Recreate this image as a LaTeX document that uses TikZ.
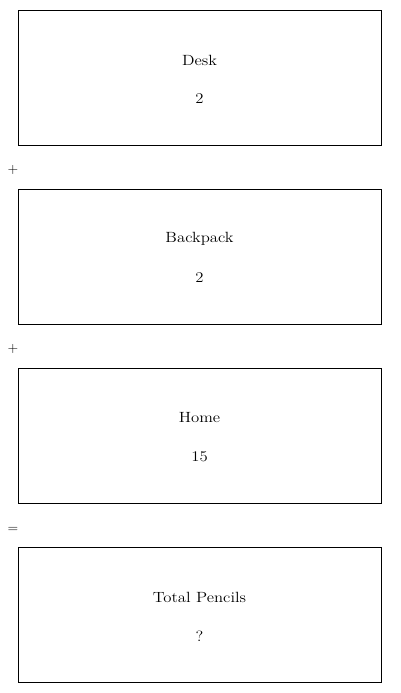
\documentclass[tikz,border=0pt]{standalone}
\begin{document}
\begin{tikzpicture}[x=1pt,y=-1pt,
  box/.style={draw=black,line width=0.9pt,minimum width=363pt,minimum height=135pt,anchor=north west,inner sep=0pt},
  lbl/.style={font=\fontsize{14.8}{18}\selectfont,inner sep=0pt,xscale=1.13,transform shape},
  op/.style={font=\fontsize{14}{16}\selectfont,inner sep=0pt}]
\useasboundingbox (0,0) rectangle (400,693);
\foreach \n/\t/\v/\y in {a/Desk/2/10, b/Backpack/2/189, c/Home/15/368, d/Total Pencils/?/547}{
  \node[box] (\n) at (18,\y) {};
  \node[lbl] (\n t) at (199.5,\y+50) {\t};
  \node[lbl] (\n v) at (199.5,\y+89) {\v};
}
\node[op] (p1) at (13,170.5) {+};
\node[op] (p2) at (13,349.5) {+};
\node[op] (eq) at (13,530) {=};
\end{tikzpicture}
\end{document}
